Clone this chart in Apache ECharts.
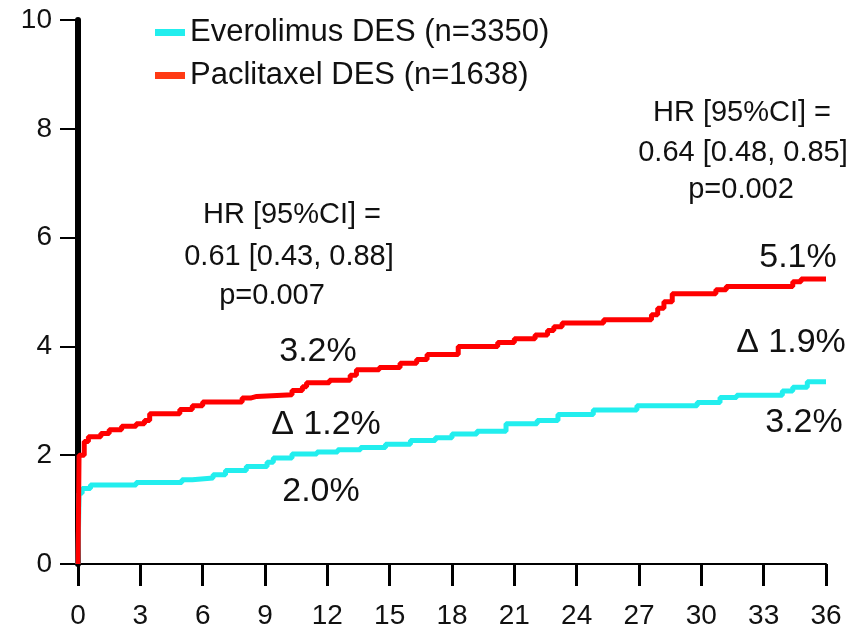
<!DOCTYPE html>
<html>
<head>
<meta charset="utf-8">
<script src="https://cdn.jsdelivr.net/npm/echarts@6/dist/echarts.min.js"></script>
<style>
    html, body { margin: 0; padding: 0; background: #fff; }
    #main { width: 856px; height: 630px; }
</style>
</head>
<body>
<div id="main"></div>
<script>
    // months from randomisation and cumulative event rate (%)
    var everoMonths = [0, 0.05, 0.2, 0.6, 2.8, 5.0, 5.5, 6.5, 7.1, 8.1, 9.1, 9.4, 10.3, 11.5, 12.5, 13.6, 14.8, 16.0, 17.2, 18.0, 19.2, 20.6, 22.1, 23.1, 24.8, 26.9, 29.8, 30.9, 31.7, 33.9, 34.4, 35.1, 36];
    var everoRates  = [0, 1.3, 1.39, 1.45, 1.5, 1.55, 1.58, 1.64, 1.72, 1.79, 1.87, 1.95, 2.02, 2.06, 2.1, 2.14, 2.2, 2.27, 2.32, 2.39, 2.44, 2.58, 2.64, 2.75, 2.83, 2.91, 2.97, 3.06, 3.1, 3.18, 3.25, 3.35, 3.35];

    var pacliMonths = [0, 0.05, 0.3, 0.5, 1.1, 1.5, 2.1, 2.8, 3.2, 3.45, 4.9, 5.5, 6.0, 7.9, 8.3, 8.6, 10.3, 10.8, 11.0, 12.1, 13.1, 13.4, 14.5, 15.5, 16.3, 16.8, 18.3, 20.2, 21.0, 22.0, 22.6, 22.9, 23.3, 25.3, 27.6, 27.9, 28.2, 28.6, 30.7, 31.2, 34.4, 34.8, 36];
    var pacliRates  = [0, 2.0, 2.25, 2.34, 2.4, 2.47, 2.53, 2.58, 2.64, 2.76, 2.84, 2.91, 2.98, 3.05, 3.08, 3.11, 3.19, 3.26, 3.33, 3.38, 3.47, 3.57, 3.61, 3.69, 3.76, 3.85, 4.0, 4.07, 4.14, 4.21, 4.29, 4.36, 4.43, 4.49, 4.58, 4.7, 4.82, 4.97, 5.04, 5.1, 5.19, 5.24, 5.24];

    var seriesNames = ['Everolimus DES (n=3350)', 'Paclitaxel DES (n=1638)'];
    var xTicks = [0, 36, 3];   // min, max, interval
    var yTicks = [0, 10, 2];

    var notes = [
        ['HR [95%CI] =', 292, 215, 29],
        ['0.61 [0.43, 0.88]', 289, 257, 29],
        ['p=0.007', 272, 296, 29],
        ['3.2%', 318, 352, 34],
        ['\u0394 1.2%', 326, 425, 34],
        ['2.0%', 321, 492, 34],
        ['HR [95%CI] =', 742, 113, 29],
        ['0.64 [0.48, 0.85]', 743, 153, 29],
        ['p=0.002', 741, 190, 29],
        ['5.1%', 798, 258, 34],
        ['\u0394 1.9%', 791, 343, 34],
        ['3.2%', 804, 423, 34]
    ];

    function zip(a, b) {
        var out = [];
        for (var i = 0; i < a.length; i++) out.push([a[i], b[i]]);
        return out;
    }

    var font = "'Liberation Sans', Arial, sans-serif";
    var chart = echarts.init(document.getElementById('main'));

    var option = {
        animation: false,
        backgroundColor: '#fff',
        grid: { left: 78, right: 30, top: 20, bottom: 62 },
        legend: {
            orient: 'vertical',
            left: 150,
            top: 12,
            itemWidth: 30,
            itemHeight: 7,
            itemGap: 12,
            icon: 'rect',
            textStyle: { fontFamily: font, fontSize: 31, color: '#111' },
            data: [
                { name: seriesNames[0], itemStyle: { color: '#22eeee' } },
                { name: seriesNames[1], itemStyle: { color: '#ff3a14' } }
            ]
        },
        xAxis: {
            type: 'value',
            min: xTicks[0], max: xTicks[1], interval: xTicks[2],
            splitLine: { show: false },
            axisLine: { lineStyle: { color: '#000', width: 2 } },
            axisTick: { length: 22, lineStyle: { color: '#000', width: 3 } },
            axisLabel: { margin: 38, fontFamily: font, fontSize: 28, color: '#111' }
        },
        yAxis: {
            type: 'value',
            min: yTicks[0], max: yTicks[1], interval: yTicks[2],
            splitLine: { show: false },
            axisLine: { show: true, lineStyle: { color: '#000', width: 6 } },
            axisTick: { show: true, length: 18, lineStyle: { color: '#000', width: 2 } },
            axisLabel: { margin: 26, fontFamily: font, fontSize: 28, color: '#111' }
        },
        graphic: notes.map(function (n) {
            return {
                type: 'text', x: n[1], y: n[2],
                style: {
                    text: n[0], fontFamily: font, fontSize: n[3], fill: '#111',
                    align: 'center', verticalAlign: 'middle'
                }
            };
        }),
        series: [
            {
                name: seriesNames[0], type: 'line', step: 'end', showSymbol: false,
                color: '#22eeee', lineStyle: { width: 5, color: '#22eeee' },
                data: zip(everoMonths, everoRates)
            },
            {
                name: seriesNames[1], type: 'line', step: 'end', showSymbol: false,
                color: '#ff0000', lineStyle: { width: 5, color: '#ff0000' },
                data: zip(pacliMonths, pacliRates)
            }
        ]
    };

    chart.setOption(option);
</script>
</body>
</html>
